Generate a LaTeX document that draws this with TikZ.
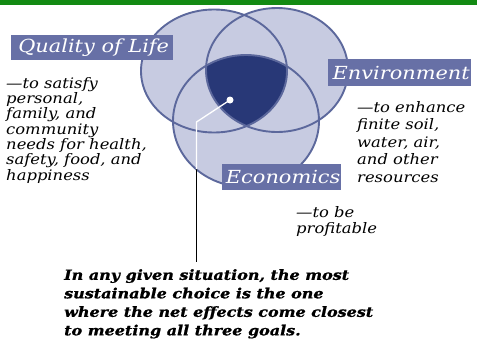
\documentclass[tikz,border=0pt]{standalone}
\usepackage{fontspec}
\setmainfont{DejaVu Serif}
\newfontfamily\notefont{DejaVu Serif}[FakeStretch=1.13]
\newfontfamily\labelfont{DejaVu Serif}[FakeStretch=1.16]
\newfontfamily\mainfont{DejaVu Serif}[FakeStretch=1.14,FakeBold=1]
\begin{document}
\begin{tikzpicture}[x=1pt,y=-1pt,
  ring/.style={draw=venline,line width=1.9pt},
  labelbox/.style={fill=venbox,text=white,font=\labelfont\itshape\fontsize{18}{18}\selectfont,inner sep=0pt,anchor=north west},
  note/.style={font=\notefont\itshape\fontsize{14.5}{15.3}\selectfont,align=left,anchor=north west,inner sep=0pt},
  bignote/.style={font=\mainfont\bfseries\itshape\fontsize{14}{18.5}\selectfont,align=left,anchor=north west,inner sep=0pt}]
\definecolor{venlight}{HTML}{C7CBE1}
\definecolor{venline}{HTML}{5C689C}
\definecolor{vendark}{HTML}{283877}
\definecolor{venbox}{HTML}{6770A6}
\definecolor{topgreen}{HTML}{138A13}
\useasboundingbox (0,0) rectangle (477,343);
\fill[white] (0,0) rectangle (477,343);
\fill[topgreen] (0,0) rectangle (477,4.5);
% circles
\def\cL{(214,71) ellipse [x radius=73,y radius=61.5]}
\def\cR{(277,70) ellipse [x radius=71,y radius=62]}
\def\cB{(246,121) ellipse [x radius=73,y radius=66]}
\fill[venlight] \cL; \fill[venlight] \cR; \fill[venlight] \cB;
\begin{scope}
\clip \cL; \clip \cR; \fill[vendark] \cB;
\end{scope}
\draw[ring] \cL; \draw[ring] \cR; \draw[ring] \cB;
% connector
\node[circle,fill=white,inner sep=0pt,minimum size=7pt] (dot) at (230,100) {};
\coordinate (bend) at (196.5,122);
\coordinate (exit) at (196.5,169);
\coordinate (foot) at (196.5,262);
\draw[black,line width=1.3pt] (exit) -- (foot);
\draw[white,line width=1.3pt] (dot.center) -- (bend) -- (exit);
% labels
\node[labelbox,minimum width=162pt,minimum height=25pt] (qol) at (11,35) {\hspace*{3pt}Quality of Life\hfill};
\node[labelbox,minimum width=143pt,minimum height=27pt] (env) at (328,59) {\hspace*{3pt}Environment\hfill};
\node[labelbox,minimum width=119pt,minimum height=26pt] (eco) at (222,164) {\hspace*{3pt}Economics\hfill};
% notes
\node[note] (qoltext) at (6,77) {—to satisfy\\personal,\\family, and\\community\\needs for health,\\safety, food, and\\happiness};
\node[note,font=\notefont\itshape\fontsize{14.5}{17.5}\selectfont] (envtext) at (357,101) {—to enhance\\finite soil,\\water, air,\\and other\\resources};
\node[note,font=\notefont\itshape\fontsize{14.5}{16}\selectfont] (ecotext) at (296,206) {—to be\\profitable};
\node[bignote] (main) at (64,269) {In any given situation, the most\\sustainable choice is the one\\where the net effects come closest\\to meeting all three goals.};
\end{tikzpicture}
\end{document}
